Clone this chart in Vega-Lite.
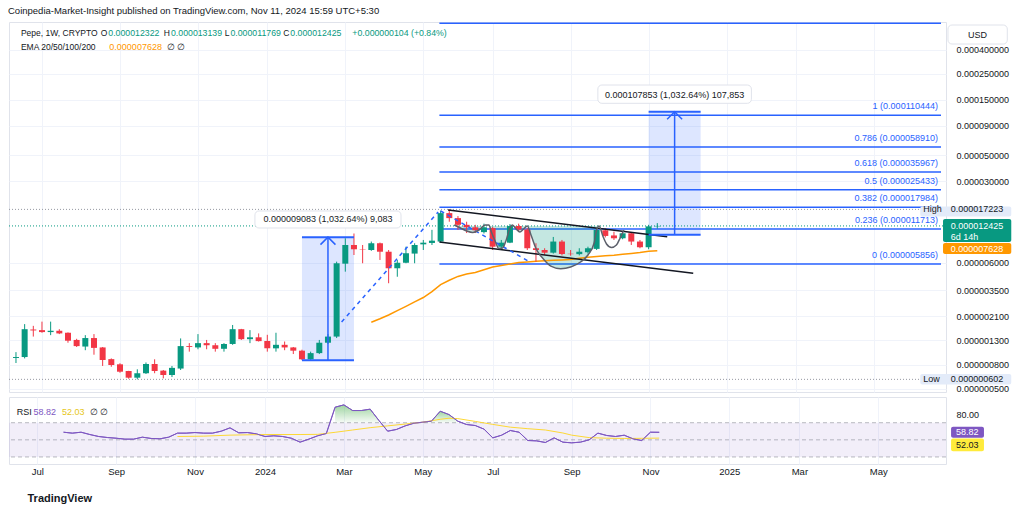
{
"$schema":"https://vega.github.io/schema/vega-lite/v6.json",
"background":"white",
"padding":{"left":8,"top":6,"right":0,"bottom":0},
"title":{"text":"Coinpedia-Market-Insight published on TradingView.com, Nov 11, 2024 15:59 UTC+5:30","anchor":"start","fontSize":9.5,"fontWeight":"normal","color":"#131722","offset":6,"font":"Liberation Sans"},
"config":{"font":"Liberation Sans","view":{"stroke":"#e0e3eb"}},
"spacing":1,
"datasets":{
"ohlc":[
{"d":"2023-06-12","o":9.17e-7,"h":1.03e-6,"l":8.31e-7,"c":9.35e-7},
{"d":"2023-06-19","o":9.35e-7,"h":1.79e-6,"l":9.1e-7,"c":1.62e-6},
{"d":"2023-06-26","o":1.61e-6,"h":1.73e-6,"l":1.40e-6,"c":1.58e-6},
{"d":"2023-07-03","o":1.59e-6,"h":1.88e-6,"l":1.51e-6,"c":1.53e-6},
{"d":"2023-07-10","o":1.53e-6,"h":1.88e-6,"l":1.44e-6,"c":1.57e-6},
{"d":"2023-07-17","o":1.57e-6,"h":1.62e-6,"l":1.47e-6,"c":1.49e-6},
{"d":"2023-07-24","o":1.51e-6,"h":1.52e-6,"l":1.24e-6,"c":1.29e-6},
{"d":"2023-07-31","o":1.31e-6,"h":1.34e-6,"l":1.14e-6,"c":1.16e-6},
{"d":"2023-08-07","o":1.15e-6,"h":1.44e-6,"l":1.07e-6,"c":1.36e-6},
{"d":"2023-08-14","o":1.36e-6,"h":1.47e-6,"l":9.79e-7,"c":1.12e-6},
{"d":"2023-08-21","o":1.13e-6,"h":1.14e-6,"l":7.84e-7,"c":8.82e-7},
{"d":"2023-08-28","o":8.97e-7,"h":9.1e-7,"l":7.72e-7,"c":7.99e-7},
{"d":"2023-09-04","o":8.10e-7,"h":8.27e-7,"l":6.86e-7,"c":7.00e-7},
{"d":"2023-09-11","o":7.10e-7,"h":7.12e-7,"l":6.10e-7,"c":6.22e-7},
{"d":"2023-09-18","o":6.22e-7,"h":7.34e-7,"l":6.02e-7,"c":6.79e-7},
{"d":"2023-09-25","o":6.79e-7,"h":8.40e-7,"l":6.69e-7,"c":8.15e-7},
{"d":"2023-10-02","o":8.15e-7,"h":8.94e-7,"l":6.79e-7,"c":7.10e-7},
{"d":"2023-10-09","o":7.15e-7,"h":7.24e-7,"l":6.14e-7,"c":6.56e-7},
{"d":"2023-10-16","o":6.56e-7,"h":7.84e-7,"l":6.30e-7,"c":7.55e-7},
{"d":"2023-10-23","o":7.45e-7,"h":1.35e-6,"l":7.24e-7,"c":1.16e-6},
{"d":"2023-10-30","o":1.16e-6,"h":1.23e-6,"l":1.04e-6,"c":1.14e-6},
{"d":"2023-11-06","o":1.13e-6,"h":1.47e-6,"l":1.09e-6,"c":1.23e-6},
{"d":"2023-11-13","o":1.23e-6,"h":1.31e-6,"l":1.09e-6,"c":1.18e-6},
{"d":"2023-11-20","o":1.18e-6,"h":1.23e-6,"l":1.04e-6,"c":1.10e-6},
{"d":"2023-11-27","o":1.10e-6,"h":1.23e-6,"l":1.04e-6,"c":1.21e-6},
{"d":"2023-12-04","o":1.21e-6,"h":1.76e-6,"l":1.19e-6,"c":1.62e-6},
{"d":"2023-12-11","o":1.62e-6,"h":1.63e-6,"l":1.31e-6,"c":1.33e-6},
{"d":"2023-12-18","o":1.33e-6,"h":1.59e-6,"l":1.23e-6,"c":1.38e-6},
{"d":"2023-12-25","o":1.38e-6,"h":1.49e-6,"l":1.27e-6,"c":1.28e-6},
{"d":"2024-01-01","o":1.28e-6,"h":1.45e-6,"l":1.04e-6,"c":1.11e-6},
{"d":"2024-01-08","o":1.11e-6,"h":1.51e-6,"l":1.04e-6,"c":1.19e-6},
{"d":"2024-01-15","o":1.19e-6,"h":1.27e-6,"l":1.07e-6,"c":1.13e-6},
{"d":"2024-01-22","o":1.13e-6,"h":1.14e-6,"l":9.92e-7,"c":1.06e-6},
{"d":"2024-01-29","o":1.06e-6,"h":1.08e-6,"l":8.80e-7,"c":8.94e-7},
{"d":"2024-02-05","o":8.94e-7,"h":1.04e-6,"l":8.85e-7,"c":1.01e-6},
{"d":"2024-02-12","o":1.01e-6,"h":1.31e-6,"l":9.92e-7,"c":1.24e-6},
{"d":"2024-02-19","o":1.24e-6,"h":1.47e-6,"l":1.21e-6,"c":1.40e-6},
{"d":"2024-02-26","o":1.40e-6,"h":6.14e-6,"l":1.36e-6,"c":5.95e-6},
{"d":"2024-03-04","o":5.90e-6,"h":9.74e-6,"l":5.04e-6,"c":8.53e-6},
{"d":"2024-03-11","o":8.53e-6,"h":1.07e-5,"l":7.0e-6,"c":7.84e-6},
{"d":"2024-03-18","o":7.84e-6,"h":8.53e-6,"l":5.95e-6,"c":7.78e-6},
{"d":"2024-03-25","o":7.73e-6,"h":9.13e-6,"l":7.6e-6,"c":8.83e-6},
{"d":"2024-04-01","o":8.83e-6,"h":8.95e-6,"l":6.35e-6,"c":7.47e-6},
{"d":"2024-04-08","o":7.47e-6,"h":7.73e-6,"l":4.01e-6,"c":5.39e-6},
{"d":"2024-04-15","o":5.39e-6,"h":6.35e-6,"l":4.56e-6,"c":6.01e-6},
{"d":"2024-04-22","o":6.01e-6,"h":8.25e-6,"l":5.95e-6,"c":7.25e-6},
{"d":"2024-04-29","o":7.20e-6,"h":8.83e-6,"l":5.95e-6,"c":8.53e-6},
{"d":"2024-05-06","o":8.64e-6,"h":9.42e-6,"l":7.73e-6,"c":8.93e-6},
{"d":"2024-05-13","o":8.88e-6,"h":1.15e-5,"l":8.53e-6,"c":9.29e-6},
{"d":"2024-05-20","o":9.13e-6,"h":1.68e-5,"l":8.93e-6,"c":1.60e-5},
{"d":"2024-05-27","o":1.60e-5,"h":1.7223e-5,"l":1.35e-5,"c":1.45e-5},
{"d":"2024-06-03","o":1.45e-5,"h":1.51e-5,"l":1.15e-5,"c":1.27e-5},
{"d":"2024-06-10","o":1.27e-5,"h":1.35e-5,"l":1.08e-5,"c":1.21e-5},
{"d":"2024-06-17","o":1.21e-5,"h":1.27e-5,"l":1.08e-5,"c":1.14e-5},
{"d":"2024-06-24","o":1.10e-5,"h":1.30e-5,"l":1.07e-5,"c":1.21e-5},
{"d":"2024-07-01","o":1.19e-5,"h":1.22e-5,"l":7.73e-6,"c":8.25e-6},
{"d":"2024-07-08","o":8.25e-6,"h":9.42e-6,"l":7.73e-6,"c":8.93e-6},
{"d":"2024-07-15","o":8.93e-6,"h":1.29e-5,"l":8.85e-6,"c":1.24e-5},
{"d":"2024-07-22","o":1.24e-5,"h":1.30e-5,"l":1.11e-5,"c":1.16e-5},
{"d":"2024-07-29","o":1.16e-5,"h":1.19e-5,"l":7.73e-6,"c":8.0e-6},
{"d":"2024-08-05","o":8.0e-6,"h":8.83e-6,"l":6.14e-6,"c":7.73e-6},
{"d":"2024-08-12","o":7.73e-6,"h":8.0e-6,"l":7.0e-6,"c":7.33e-6},
{"d":"2024-08-19","o":7.33e-6,"h":1.0e-5,"l":7.2e-6,"c":9.13e-6},
{"d":"2024-08-26","o":9.13e-6,"h":9.42e-6,"l":6.95e-6,"c":7.14e-6},
{"d":"2024-09-02","o":7.18e-6,"h":7.73e-6,"l":6.9e-6,"c":7.12e-6},
{"d":"2024-09-09","o":7.12e-6,"h":8.0e-6,"l":6.95e-6,"c":7.47e-6},
{"d":"2024-09-16","o":7.40e-6,"h":8.25e-6,"l":7.2e-6,"c":8.0e-6},
{"d":"2024-09-23","o":7.9e-6,"h":1.19e-5,"l":7.73e-6,"c":1.147e-5},
{"d":"2024-09-30","o":1.14e-5,"h":1.19e-5,"l":9.9e-6,"c":1.02e-5},
{"d":"2024-10-07","o":1.03e-5,"h":1.11e-5,"l":9.42e-6,"c":9.74e-6},
{"d":"2024-10-14","o":9.74e-6,"h":1.11e-5,"l":9.55e-6,"c":1.075e-5},
{"d":"2024-10-21","o":1.075e-5,"h":1.09e-5,"l":8.53e-6,"c":9.13e-6},
{"d":"2024-10-28","o":9.13e-6,"h":9.42e-6,"l":8.0e-6,"c":8.16e-6},
{"d":"2024-11-04","o":8.16e-6,"h":1.27e-5,"l":7.84e-6,"c":1.2322e-5},
{"d":"2024-11-11","o":1.2322e-5,"h":1.3139e-5,"l":1.1769e-5,"c":1.2425e-5}
],
"ema":[
{"d":"2024-03-25","p":1.856e-6},{"d":"2024-04-01","p":1.989e-6},{"d":"2024-04-08","p":2.144e-6},{"d":"2024-04-15","p":2.338e-6},
{"d":"2024-04-22","p":2.544e-6},{"d":"2024-04-29","p":2.776e-6},{"d":"2024-05-06","p":3.027e-6},{"d":"2024-05-13","p":3.395e-6},
{"d":"2024-05-20","p":3.905e-6},{"d":"2024-05-27","p":4.25e-6},{"d":"2024-06-03","p":4.589e-6},{"d":"2024-06-10","p":4.812e-6},
{"d":"2024-06-17","p":4.967e-6},{"d":"2024-06-24","p":5.239e-6},{"d":"2024-07-01","p":5.515e-6},{"d":"2024-07-08","p":5.693e-6},
{"d":"2024-07-15","p":5.875e-6},{"d":"2024-07-22","p":6.028e-6},{"d":"2024-07-29","p":6.10e-6},{"d":"2024-08-05","p":6.184e-6},
{"d":"2024-08-12","p":6.245e-6},{"d":"2024-08-19","p":6.307e-6},{"d":"2024-08-26","p":6.358e-6},{"d":"2024-09-02","p":6.408e-6},
{"d":"2024-09-09","p":6.561e-6},{"d":"2024-09-16","p":6.707e-6},{"d":"2024-09-23","p":6.802e-6},{"d":"2024-09-30","p":6.897e-6},
{"d":"2024-10-07","p":6.976e-6},{"d":"2024-10-14","p":7.10e-6},{"d":"2024-10-21","p":7.212e-6},{"d":"2024-10-28","p":7.345e-6},
{"d":"2024-11-04","p":7.535e-6},{"d":"2024-11-11","p":7.628e-6}
],
"fib":[
{"x1":"2024-05-19","x2":"2025-06-28T03:50:00Z","p":6.785e-4,"lab":""},
{"x1":"2024-05-19","x2":"2025-06-28T03:50:00Z","p":1.10444e-4,"lab":"1 (0.000110444)"},
{"x1":"2024-05-19","x2":"2025-06-28T03:50:00Z","p":5.891e-5,"lab":"0.786 (0.000058910)"},
{"x1":"2024-05-19","x2":"2025-06-28T03:50:00Z","p":3.5967e-5,"lab":"0.618 (0.000035967)"},
{"x1":"2024-05-19","x2":"2025-06-28T03:50:00Z","p":2.5433e-5,"lab":"0.5 (0.000025433)"},
{"x1":"2024-05-19","x2":"2025-06-28T03:50:00Z","p":1.7984e-5,"lab":"0.382 (0.000017984)"},
{"x1":"2024-05-19","x2":"2025-06-28T03:50:00Z","p":1.1713e-5,"lab":"0.236 (0.000011713)"},
{"x1":"2024-05-19","x2":"2025-06-28T03:50:00Z","p":5.856e-6,"lab":"0 (0.000005856)"}
],
"meas":[
{"x1":"2024-01-29","x2":"2024-03-11","xm":"2024-02-19","lo":8.796e-7,"hi":9.963e-6,"bx1":"2023-12-22","bx2":"2024-04-18","by1":1.193e-5,"by2":1.669e-5,"ty":1.411e-5,"lab":"0.000009083 (1,032.64%) 9,083"},
{"x1":"2024-11-04","x2":"2024-12-16","xm":"2024-11-25","lo":1.0444e-5,"hi":1.18297e-4,"bx1":"2024-09-24","bx2":"2025-01-26","by1":1.397e-4,"by2":2.004e-4,"ty":1.646e-4,"lab":"0.000107853 (1,032.64%) 107,853"}
],
"hl":[{"p":1.2425e-5,"k":"cur"},{"p":1.7223e-5,"k":"hi"},{"p":6.02e-7,"k":"lo"}],
"cup":[
{"d":"2024-05-31","p":1.266e-5,"t":1.241e-5},{"d":"2024-06-05","p":1.193e-5,"t":1.241e-5},{"d":"2024-06-10","p":1.125e-5,"t":1.241e-5},
{"d":"2024-06-15","p":1.092e-5,"t":1.241e-5},{"d":"2024-06-20","p":1.147e-5,"t":1.241e-5},{"d":"2024-06-25","p":1.266e-5,"t":1.241e-5},
{"d":"2024-06-28","p":1.266e-5,"t":1.241e-5},{"d":"2024-06-30","p":1.102e-5,"t":1.241e-5},{"d":"2024-07-03","p":9.23e-6,"t":1.241e-5},
{"d":"2024-07-06","p":7.96e-6,"t":1.241e-5},{"d":"2024-07-09","p":8.04e-6,"t":1.241e-5},{"d":"2024-07-12","p":9.42e-6,"t":1.241e-5},
{"d":"2024-07-15","p":1.193e-5,"t":1.241e-5},{"d":"2024-07-17","p":1.266e-5,"t":1.241e-5},{"d":"2024-07-20","p":1.170e-5,"t":1.241e-5},
{"d":"2024-07-23","p":1.102e-5,"t":1.241e-5},{"d":"2024-07-26","p":1.170e-5,"t":1.241e-5},{"d":"2024-07-29","p":1.241e-5,"t":1.241e-5},
{"d":"2024-08-01","p":1.039e-5,"t":1.241e-5},{"d":"2024-08-05","p":7.96e-6,"t":1.241e-5},{"d":"2024-08-11","p":6.47e-6,"t":1.241e-5},
{"d":"2024-08-17","p":5.63e-6,"t":1.241e-5},{"d":"2024-08-25","p":5.35e-6,"t":1.241e-5},{"d":"2024-09-02","p":5.52e-6,"t":1.241e-5},
{"d":"2024-09-10","p":6.10e-6,"t":1.241e-5},{"d":"2024-09-16","p":7.00e-6,"t":1.241e-5},{"d":"2024-09-21","p":8.875e-6,"t":1.241e-5},
{"d":"2024-09-23","p":1.147e-5,"t":1.241e-5},{"d":"2024-09-25","p":1.241e-5,"t":1.241e-5},
{"d":"2024-09-28","p":1.019e-5},{"d":"2024-10-01","p":8.70e-6},{"d":"2024-10-05","p":8.12e-6},
{"d":"2024-10-09","p":8.53e-6},{"d":"2024-10-12","p":9.80e-6},{"d":"2024-10-15","p":1.147e-5}
],
"chan":[
{"g":"u","d":"2024-05-26","p":1.702e-5},{"g":"u","d":"2024-11-19","p":1.005e-5},
{"g":"l","d":"2024-05-19","p":9.05e-6},{"g":"l","d":"2024-12-10","p":4.88e-6}
],
"proj":[
{"g":"a","d":"2024-03-01","p":1.867e-6},{"g":"a","d":"2024-05-18","p":1.636e-5},
{"g":"b","d":"2024-05-20","p":1.669e-5},{"g":"b","d":"2024-07-31","p":6.10e-6}
],
"leg":[
{"d":"2023-06-16T00:00:00Z","p":5.595e-4,"t":"Pepe, 1W, CRYPTO","k":"dark"},
{"d":"2023-08-25T14:00:00Z","p":5.595e-4,"t":"0.000012322","k":"val"},
{"d":"2023-10-15T05:00:00Z","p":5.595e-4,"t":"0.000013139","k":"val"},
{"d":"2023-12-02T05:00:00Z","p":5.595e-4,"t":"0.000011769","k":"val"},
{"d":"2024-01-19T14:00:00Z","p":5.595e-4,"t":"0.000012425","k":"val"},
{"d":"2024-03-09T17:00:00Z","p":5.595e-4,"t":"+0.000000104 (+0.84%)","k":"val"},
{"d":"2023-06-16T00:00:00Z","p":4.243e-4,"t":"EMA 20/50/100/200","k":"dark"},
{"d":"2023-08-26T10:00:00Z","p":4.243e-4,"t":"0.000007628","k":"ema"},
{"d":"2023-10-12T00:00:00Z","p":4.243e-4,"t":"∅  ∅","k":"dark"}
],
"legk":[
{"d":"2023-08-25T14:00:00Z","p":5.595e-4,"t":"O"},
{"d":"2023-10-15T05:00:00Z","p":5.595e-4,"t":"H"},
{"d":"2023-12-02T05:00:00Z","p":5.595e-4,"t":"L"},
{"d":"2024-01-19T14:00:00Z","p":5.595e-4,"t":"C"}
],
"badge":[
{"x1":"2025-06-11T10:00:00Z","x2":"2025-08-23T22:00:00Z","p1":1.497e-5,"p2":1.823e-5,"k":"hi"},
{"x1":"2025-06-29T19:00:00Z","x2":"2025-08-23T22:00:00Z","p1":9.05e-6,"p2":1.425e-5,"k":"cur"},
{"x1":"2025-06-29T19:00:00Z","x2":"2025-08-23T22:00:00Z","p1":7.14e-6,"p2":8.87e-6,"k":"ema"},
{"x1":"2025-06-11T10:00:00Z","x2":"2025-08-23T22:00:00Z","p1":5.44e-7,"p2":6.69e-7,"k":"lo"}
],
"btxt":[
{"d":"2025-07-06T02:00:00Z","p":1.7223e-5,"t":"0.000017223","k":"hi"},
{"d":"2025-07-06T02:00:00Z","p":1.2425e-5,"t":"0.000012425","k":"cur"},
{"d":"2025-07-06T02:00:00Z","p":9.93e-6,"t":"6d 14h","k":"cur"},
{"d":"2025-07-06T02:00:00Z","p":7.84e-6,"t":"0.000007628","k":"ema"},
{"d":"2025-07-06T02:00:00Z","p":6.02e-7,"t":"0.000000602","k":"lo"},
{"d":"2025-06-13T19:00:00Z","p":1.7223e-5,"t":"High","k":"hi"},
{"d":"2025-06-13T19:00:00Z","p":6.02e-7,"t":"Low","k":"lo"}
],
"usd":[{"x1":"2025-07-03T19:00:00Z","x2":"2025-08-20T17:00:00Z","xm":"2025-07-27T17:00:00Z","p1":4.50e-4,"p2":6.55e-4,"pm":5.43e-4,"t":"USD"}],
"rsi":[
{"d":"2023-07-24","v":58.9},{"d":"2023-07-31","v":57.8},{"d":"2023-08-07","v":58.9},{"d":"2023-08-14","v":56.2},
{"d":"2023-08-21","v":53.9},{"d":"2023-08-28","v":52.7},{"d":"2023-09-04","v":51.9},{"d":"2023-09-11","v":50.8},
{"d":"2023-09-18","v":50.8},{"d":"2023-09-25","v":53.1},{"d":"2023-10-02","v":51.6},{"d":"2023-10-09","v":51.2},
{"d":"2023-10-16","v":53.1},{"d":"2023-10-23","v":57.8},{"d":"2023-10-30","v":57.8},{"d":"2023-11-06","v":58.5},
{"d":"2023-11-13","v":57.8},{"d":"2023-11-20","v":57.8},{"d":"2023-11-27","v":60.1},{"d":"2023-12-04","v":64.0},
{"d":"2023-12-11","v":58.2},{"d":"2023-12-18","v":58.5},{"d":"2023-12-25","v":57.0},{"d":"2024-01-01","v":53.9},
{"d":"2024-01-08","v":54.7},{"d":"2024-01-15","v":53.9},{"d":"2024-01-22","v":51.9},{"d":"2024-01-29","v":47.3},
{"d":"2024-02-05","v":50.8},{"d":"2024-02-12","v":54.7},{"d":"2024-02-19","v":57.4},
{"d":"2024-02-26","v":88.1,"ob":"a"},{"d":"2024-03-04","v":90.8,"ob":"a"},{"d":"2024-03-11","v":84.2,"ob":"a"},
{"d":"2024-03-18","v":84.2,"ob":"a"},{"d":"2024-03-25","v":85.8,"ob":"a"},{"d":"2024-04-01","v":72.6,"ob":"a"},
{"d":"2024-04-08","v":60.1},{"d":"2024-04-15","v":62.1},{"d":"2024-04-22","v":66.3},{"d":"2024-04-29","v":69.4},
{"d":"2024-05-06","v":70.6,"ob":"b"},{"d":"2024-05-13","v":71.8,"ob":"b"},{"d":"2024-05-20","v":83.4,"ob":"b"},
{"d":"2024-05-27","v":79.5,"ob":"b"},{"d":"2024-06-03","v":71.8,"ob":"b"},
{"d":"2024-06-10","v":67.9},{"d":"2024-06-17","v":66.7},{"d":"2024-06-24","v":62.5},{"d":"2024-07-01","v":52.3},
{"d":"2024-07-08","v":55.4},{"d":"2024-07-15","v":60.9},{"d":"2024-07-22","v":58.9},{"d":"2024-07-29","v":49.2},
{"d":"2024-08-05","v":48.8},{"d":"2024-08-12","v":46.9},{"d":"2024-08-19","v":52.3},{"d":"2024-08-26","v":47.3},
{"d":"2024-09-02","v":46.5},{"d":"2024-09-09","v":47.3},{"d":"2024-09-16","v":50.0},{"d":"2024-09-23","v":57.8},
{"d":"2024-09-30","v":55.1},{"d":"2024-10-07","v":53.9},{"d":"2024-10-14","v":55.4},{"d":"2024-10-21","v":51.2},
{"d":"2024-10-28","v":49.2},{"d":"2024-11-04","v":58.9},{"d":"2024-11-11","v":58.82}
],
"rsima":[
{"d":"2023-10-23","v":53.9},{"d":"2023-11-13","v":54.3},{"d":"2023-12-04","v":55.5},{"d":"2024-01-01","v":56.2},
{"d":"2024-01-29","v":56.2},{"d":"2024-02-12","v":56.4},{"d":"2024-02-26","v":58.8},{"d":"2024-03-11","v":61.5},
{"d":"2024-03-25","v":64.2},{"d":"2024-04-08","v":66.3},{"d":"2024-04-22","v":68.4},{"d":"2024-05-06","v":70.6},
{"d":"2024-05-20","v":74.0},{"d":"2024-05-27","v":75.2},{"d":"2024-06-03","v":74.8},{"d":"2024-06-17","v":71.5},
{"d":"2024-07-01","v":68.0},{"d":"2024-07-15","v":64.8},{"d":"2024-07-29","v":63.0},{"d":"2024-08-12","v":61.5},
{"d":"2024-08-26","v":58.0},{"d":"2024-09-02","v":55.5},{"d":"2024-09-16","v":52.6},{"d":"2024-09-30","v":51.9},
{"d":"2024-10-14","v":51.6},{"d":"2024-10-28","v":51.8},{"d":"2024-11-11","v":52.03}
],
"rband":[{"hi":70,"lo":30}],
"rlv":[{"v":70},{"v":50},{"v":30}],
"rbadge":[
{"x1":"2025-07-02T05:00:00Z","x2":"2025-07-28T12:00:00Z","v1":52.4,"v2":65.2,"k":"rsi"},
{"x1":"2025-07-02T05:00:00Z","x2":"2025-07-28T12:00:00Z","v1":36.8,"v2":51.5,"k":"ma"}
],
"rbtxt":[
{"d":"2025-07-06T02:00:00Z","v":58.82,"t":"58.82","k":"rsi"},
{"d":"2025-07-06T02:00:00Z","v":44.2,"t":"52.03","k":"ma"}
],
"rleg":[
{"d":"2023-06-16T12:00:00Z","v":82.7,"t":"RSI","k":"dark"},
{"d":"2023-06-30T00:00:00Z","v":82.7,"t":"58.82","k":"rsi"},
{"d":"2023-07-22T19:00:00Z","v":82.7,"t":"52.03","k":"ma"},
{"d":"2023-08-14T00:00:00Z","v":82.7,"t":"∅  ∅","k":"dark"}
]
},
"vconcat":[
{
"width":937,"height":370,
"resolve":{"scale":{"color":"independent","size":"independent"}},
"layer":[
{"data":{"name":"fib"},"mark":{"type":"rule","color":"#2962ff","strokeWidth":1.5},
 "encoding":{
  "x":{"field":"x1","type":"temporal","scale":{"type":"utc","domain":[1686389933000,1751082624000]},
       "axis":{"values":[1688342400000,1693785600000,1699228800000,1704067200000,1709510400000,1714953600000,1719792000000,1725235200000,1730678400000,1736121600000,1740960000000,1746403200000],"labels":false,"ticks":false,"domain":false,"grid":true,"gridColor":"#f0f3fa","title":null}},
  "x2":{"field":"x2"},
  "y":{"field":"p","type":"quantitative","scale":{"type":"log","domain":[4.69e-7,6.95e-4],"nice":false},
       "axis":{"orient":"right","values":[0.0004,0.00025,0.00015,0.00009,0.00005,0.00003,0.000006,0.0000035,0.0000021,0.0000013,0.0000008,0.0000005],"format":".9f","title":null,"grid":true,"gridColor":"#f0f3fa","ticks":false,"domain":false,"labelPadding":10,"labelFontSize":9,"labelColor":"#131722","labelOverlap":false,"labelFlush":false}}}},
{"data":{"name":"meas"},"mark":{"type":"rect","color":"#2962ff","opacity":0.16},
 "encoding":{"x":{"field":"x1","type":"temporal","scale":{"type":"utc","domain":[1686389933000,1751082624000]}},"x2":{"field":"x2"},
  "y":{"field":"lo","type":"quantitative","scale":{"type":"log","domain":[4.69e-7,6.95e-4],"nice":false}},"y2":{"field":"hi"}}},
{"data":{"name":"cup"},"transform":[{"filter":"isValid(datum.t)"}],"mark":{"type":"area","color":"#089981","opacity":0.24,"interpolate":"monotone"},
 "encoding":{"x":{"field":"d","type":"temporal","scale":{"type":"utc","domain":[1686389933000,1751082624000]}},
  "y":{"field":"p","type":"quantitative","scale":{"type":"log","domain":[4.69e-7,6.95e-4],"nice":false}},"y2":{"field":"t"}}},
{"data":{"name":"hl"},"mark":{"type":"rule","strokeDash":[1,2],"strokeWidth":1},
 "encoding":{"y":{"field":"p","type":"quantitative","scale":{"type":"log","domain":[4.69e-7,6.95e-4],"nice":false}},
  "color":{"field":"k","type":"nominal","scale":{"domain":["cur","hi","lo"],"range":["#089981","#9598a1","#9598a1"]},"legend":null}}},
{"data":{"name":"ema"},"mark":{"type":"line","color":"#ff9800","strokeWidth":1.5},
 "encoding":{"x":{"field":"d","type":"temporal","scale":{"type":"utc","domain":[1686389933000,1751082624000]}},
  "y":{"field":"p","type":"quantitative","scale":{"type":"log","domain":[4.69e-7,6.95e-4],"nice":false}}}},
{"data":{"name":"ohlc"},"mark":{"type":"rule","strokeWidth":1},
 "encoding":{"x":{"field":"d","type":"temporal","scale":{"type":"utc","domain":[1686389933000,1751082624000]}},
  "y":{"field":"l","type":"quantitative","scale":{"type":"log","domain":[4.69e-7,6.95e-4],"nice":false}},"y2":{"field":"h"},
  "color":{"condition":{"test":"datum.c >= datum.o","value":"#089981"},"value":"#f23645"}}},
{"data":{"name":"ohlc"},"mark":{"type":"bar","width":6},
 "encoding":{"x":{"field":"d","type":"temporal","scale":{"type":"utc","domain":[1686389933000,1751082624000]}},
  "y":{"field":"o","type":"quantitative","scale":{"type":"log","domain":[4.69e-7,6.95e-4],"nice":false}},"y2":{"field":"c"},
  "color":{"condition":{"test":"datum.c >= datum.o","value":"#089981"},"value":"#f23645"}}},
{"data":{"name":"chan"},"mark":{"type":"line","color":"#131722","strokeWidth":1.5},
 "encoding":{"x":{"field":"d","type":"temporal","scale":{"type":"utc","domain":[1686389933000,1751082624000]}},
  "y":{"field":"p","type":"quantitative","scale":{"type":"log","domain":[4.69e-7,6.95e-4],"nice":false}},"detail":{"field":"g"}}},
{"data":{"name":"proj"},"mark":{"type":"line","color":"#2962ff","strokeWidth":1.5,"strokeDash":[4,4]},
 "encoding":{"x":{"field":"d","type":"temporal","scale":{"type":"utc","domain":[1686389933000,1751082624000]}},
  "y":{"field":"p","type":"quantitative","scale":{"type":"log","domain":[4.69e-7,6.95e-4],"nice":false}},"detail":{"field":"g"}}},
{"data":{"name":"cup"},"mark":{"type":"line","color":"#5d606b","strokeWidth":1.5,"interpolate":"monotone"},
 "encoding":{"x":{"field":"d","type":"temporal","scale":{"type":"utc","domain":[1686389933000,1751082624000]}},
  "y":{"field":"p","type":"quantitative","scale":{"type":"log","domain":[4.69e-7,6.95e-4],"nice":false}}}},
{"data":{"name":"meas"},"mark":{"type":"rule","color":"#2962ff","strokeWidth":2},
 "encoding":{"x":{"field":"x1","type":"temporal","scale":{"type":"utc","domain":[1686389933000,1751082624000]}},"x2":{"field":"x2"},
  "y":{"field":"hi","type":"quantitative","scale":{"type":"log","domain":[4.69e-7,6.95e-4],"nice":false}}}},
{"data":{"name":"meas"},"mark":{"type":"rule","color":"#2962ff","strokeWidth":2},
 "encoding":{"x":{"field":"x1","type":"temporal","scale":{"type":"utc","domain":[1686389933000,1751082624000]}},"x2":{"field":"x2"},
  "y":{"field":"lo","type":"quantitative","scale":{"type":"log","domain":[4.69e-7,6.95e-4],"nice":false}}}},
{"data":{"name":"meas"},"mark":{"type":"rule","color":"#2962ff","strokeWidth":1.5},
 "encoding":{"x":{"field":"xm","type":"temporal","scale":{"type":"utc","domain":[1686389933000,1751082624000]}},
  "y":{"field":"lo","type":"quantitative","scale":{"type":"log","domain":[4.69e-7,6.95e-4],"nice":false}},"y2":{"field":"hi"}}},
{"data":{"name":"meas"},"mark":{"type":"point","shape":"M-1,1L0,0L1,1","filled":false,"size":225,"strokeWidth":1.5,"color":"#2962ff","opacity":1},
 "encoding":{"x":{"field":"xm","type":"temporal","scale":{"type":"utc","domain":[1686389933000,1751082624000]}},
  "y":{"field":"hi","type":"quantitative","scale":{"type":"log","domain":[4.69e-7,6.95e-4],"nice":false}}}},
{"data":{"name":"meas"},"mark":{"type":"rect","fill":"white","stroke":"#e0e3eb","strokeWidth":1,"cornerRadius":4},
 "encoding":{"x":{"field":"bx1","type":"temporal","scale":{"type":"utc","domain":[1686389933000,1751082624000]}},"x2":{"field":"bx2"},
  "y":{"field":"by1","type":"quantitative","scale":{"type":"log","domain":[4.69e-7,6.95e-4],"nice":false}},"y2":{"field":"by2"}}},
{"data":{"name":"meas"},"mark":{"type":"text","fontSize":9,"color":"#131722","align":"center","baseline":"middle"},
 "encoding":{"x":{"field":"xm","type":"temporal","scale":{"type":"utc","domain":[1686389933000,1751082624000]}},
  "y":{"field":"ty","type":"quantitative","scale":{"type":"log","domain":[4.69e-7,6.95e-4],"nice":false}},"text":{"field":"lab"}}},
{"data":{"name":"fib"},"transform":[{"filter":"datum.lab != ''"}],"mark":{"type":"text","fontSize":9,"color":"#2962ff","align":"right","baseline":"middle","dy":-9,"dx":-3},
 "encoding":{"x":{"field":"x2","type":"temporal","scale":{"type":"utc","domain":[1686389933000,1751082624000]}},
  "y":{"field":"p","type":"quantitative","scale":{"type":"log","domain":[4.69e-7,6.95e-4],"nice":false}},"text":{"field":"lab"}}},
{"data":{"name":"leg"},"mark":{"type":"text","align":"left","baseline":"middle"},
 "encoding":{"x":{"field":"d","type":"temporal","scale":{"type":"utc","domain":[1686389933000,1751082624000]}},
  "y":{"field":"p","type":"quantitative","scale":{"type":"log","domain":[4.69e-7,6.95e-4],"nice":false}},"text":{"field":"t"},
  "size":{"field":"k","type":"nominal","scale":{"domain":["dark","val","ema"],"range":[8.5,9,9]},"legend":null},
  "color":{"field":"k","type":"nominal","scale":{"domain":["dark","val","ema"],"range":["#131722","#089981","#ff9800"]},"legend":null}}},
{"data":{"name":"legk"},"mark":{"type":"text","fontSize":8.5,"align":"right","baseline":"middle","color":"#131722","dx":-1},
 "encoding":{"x":{"field":"d","type":"temporal","scale":{"type":"utc","domain":[1686389933000,1751082624000]}},
  "y":{"field":"p","type":"quantitative","scale":{"type":"log","domain":[4.69e-7,6.95e-4],"nice":false}},"text":{"field":"t"}}},
{"data":{"name":"badge"},"mark":{"type":"rect","cornerRadius":2},
 "encoding":{"x":{"field":"x1","type":"temporal","scale":{"type":"utc","domain":[1686389933000,1751082624000]}},"x2":{"field":"x2"},
  "y":{"field":"p1","type":"quantitative","scale":{"type":"log","domain":[4.69e-7,6.95e-4],"nice":false}},"y2":{"field":"p2"},
  "color":{"field":"k","type":"nominal","scale":{"domain":["hi","cur","ema","lo"],"range":["#e3ebf9","#089981","#ff9800","#e3ebf9"]},"legend":null}}},
{"data":{"name":"btxt"},"mark":{"type":"text","fontSize":9,"align":"left","baseline":"middle"},
 "encoding":{"x":{"field":"d","type":"temporal","scale":{"type":"utc","domain":[1686389933000,1751082624000]}},
  "y":{"field":"p","type":"quantitative","scale":{"type":"log","domain":[4.69e-7,6.95e-4],"nice":false}},"text":{"field":"t"},
  "color":{"field":"k","type":"nominal","scale":{"domain":["hi","cur","ema","lo"],"range":["#131722","#ffffff","#ffffff","#131722"]},"legend":null}}},
{"data":{"name":"usd"},"mark":{"type":"rect","fill":"white","stroke":"#e0e3eb","cornerRadius":4},
 "encoding":{"x":{"field":"x1","type":"temporal","scale":{"type":"utc","domain":[1686389933000,1751082624000]}},"x2":{"field":"x2"},
  "y":{"field":"p1","type":"quantitative","scale":{"type":"log","domain":[4.69e-7,6.95e-4],"nice":false}},"y2":{"field":"p2"}}},
{"data":{"name":"usd"},"mark":{"type":"text","fontSize":9,"align":"center","baseline":"middle","color":"#131722"},
 "encoding":{"x":{"field":"xm","type":"temporal","scale":{"type":"utc","domain":[1686389933000,1751082624000]}},
  "y":{"field":"pm","type":"quantitative","scale":{"type":"log","domain":[4.69e-7,6.95e-4],"nice":false}},"text":{"field":"t"}}}
]
},
{
"width":937,"height":67,
"resolve":{"scale":{"color":"independent"}},
"layer":[
{"data":{"name":"rsi"},"mark":{"type":"line","color":"#7e57c2","strokeWidth":1},
 "encoding":{
  "x":{"field":"d","type":"temporal","scale":{"type":"utc","domain":[1686389933000,1751082624000]},
   "axis":{"values":[1688342400000,1693785600000,1699228800000,1704067200000,1709510400000,1714953600000,1719792000000,1725235200000,1730678400000,1736121600000,1740960000000,1746403200000],
    "labelExpr":"utcmonth(datum.value) == 0 ? utcFormat(datum.value, '%Y') : utcFormat(datum.value, '%b')",
    "grid":true,"gridColor":"#f0f3fa","ticks":false,"domain":false,"labelPadding":2,"labelFontSize":9.5,"labelColor":"#131722","labelFlush":false,"labelOverlap":false,
    "title":"TradingView","titleAnchor":"start","titleAlign":"left","titleX":18,"titleY":34,"titleFontSize":11,"titleFontWeight":"bold","titleColor":"#131722","titleBaseline":"middle"}},
  "y":{"field":"v","type":"quantitative","scale":{"domain":[21.8,100],"nice":false,"zero":false},
   "axis":{"orient":"right","values":[80],"format":".2f","title":null,"grid":false,"ticks":false,"domain":false,"labelPadding":10,"labelFontSize":9,"labelColor":"#131722"}}}},
{"data":{"name":"rband"},"mark":{"type":"rect","color":"#7e57c2","opacity":0.1},
 "encoding":{"y":{"field":"hi","type":"quantitative","scale":{"domain":[21.8,100],"nice":false,"zero":false}},"y2":{"field":"lo"}}},
{"data":{"name":"rlv"},"mark":{"type":"rule","color":"#787b86","strokeDash":[4,3],"opacity":0.5,"strokeWidth":1},
 "encoding":{"y":{"field":"v","type":"quantitative","scale":{"domain":[21.8,100],"nice":false,"zero":false}}}},
{"data":{"name":"rsi"},"transform":[{"filter":"datum.ob == 'a' || datum.ob == 'b'"}],
 "mark":{"type":"area","opacity":0.9,"color":{"gradient":"linear","x1":0,"y1":1,"x2":0,"y2":0,"stops":[{"offset":0,"color":"rgba(76,175,80,0.05)"},{"offset":1,"color":"rgba(76,175,80,0.6)"}]}},
 "encoding":{"x":{"field":"d","type":"temporal","scale":{"type":"utc","domain":[1686389933000,1751082624000]}},
  "y":{"field":"v","type":"quantitative","scale":{"domain":[21.8,100],"nice":false,"zero":false}},"y2":{"datum":70},"detail":{"field":"ob"}}},
{"data":{"name":"rsima"},"mark":{"type":"line","color":"#fdd835","strokeWidth":1},
 "encoding":{"x":{"field":"d","type":"temporal","scale":{"type":"utc","domain":[1686389933000,1751082624000]}},
  "y":{"field":"v","type":"quantitative","scale":{"domain":[21.8,100],"nice":false,"zero":false}}}},
{"data":{"name":"rsi"},"mark":{"type":"line","color":"#7e57c2","strokeWidth":1},
 "encoding":{"x":{"field":"d","type":"temporal","scale":{"type":"utc","domain":[1686389933000,1751082624000]}},
  "y":{"field":"v","type":"quantitative","scale":{"domain":[21.8,100],"nice":false,"zero":false}}}},
{"data":{"name":"rbadge"},"mark":{"type":"rect","cornerRadius":2},
 "encoding":{"x":{"field":"x1","type":"temporal","scale":{"type":"utc","domain":[1686389933000,1751082624000]}},"x2":{"field":"x2"},
  "y":{"field":"v1","type":"quantitative","scale":{"domain":[21.8,100],"nice":false,"zero":false}},"y2":{"field":"v2"},
  "color":{"field":"k","type":"nominal","scale":{"domain":["rsi","ma"],"range":["#7e57c2","#ffeb3b"]},"legend":null}}},
{"data":{"name":"rbtxt"},"mark":{"type":"text","fontSize":9,"align":"left","baseline":"middle"},
 "encoding":{"x":{"field":"d","type":"temporal","scale":{"type":"utc","domain":[1686389933000,1751082624000]}},
  "y":{"field":"v","type":"quantitative","scale":{"domain":[21.8,100],"nice":false,"zero":false}},"text":{"field":"t"},
  "color":{"field":"k","type":"nominal","scale":{"domain":["rsi","ma"],"range":["#ffffff","#131722"]},"legend":null}}},
{"data":{"name":"rleg"},"mark":{"type":"text","fontSize":9,"align":"left","baseline":"middle"},
 "encoding":{"x":{"field":"d","type":"temporal","scale":{"type":"utc","domain":[1686389933000,1751082624000]}},
  "y":{"field":"v","type":"quantitative","scale":{"domain":[21.8,100],"nice":false,"zero":false}},"text":{"field":"t"},
  "color":{"field":"k","type":"nominal","scale":{"domain":["dark","rsi","ma"],"range":["#131722","#7e57c2","#e6c619"]},"legend":null}}}
]
}
]
}
